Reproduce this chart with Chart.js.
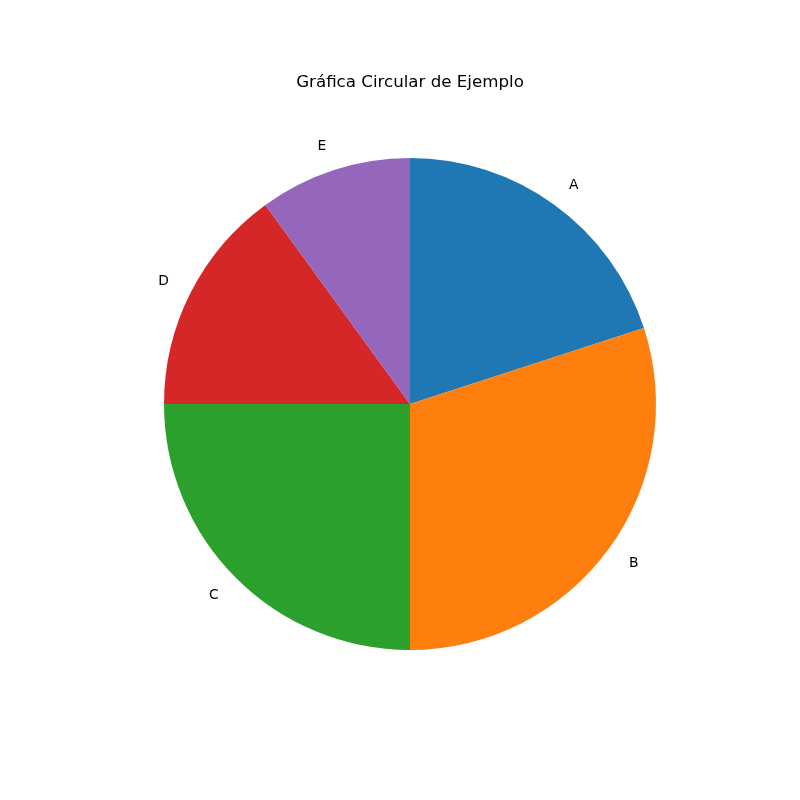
<!DOCTYPE html>
<html>
<head>
<meta charset="utf-8">
<script src="https://cdn.jsdelivr.net/npm/chart.js@4"></script>
<style>
html,body{margin:0;padding:0;background:#fff;}
#wrap{width:800px;height:800px;}
</style>
</head>
<body>
<div id="wrap"><canvas id="c" width="800" height="800"></canvas></div>
<script>
const categories = ['A', 'B', 'C', 'D', 'E'];
const values = [20, 30, 25, 15, 10];
const colors = ['#1f77b4', '#ff7f0e', '#2ca02c', '#d62728', '#9467bd'];
const titleText = 'Gráfica Circular de Ejemplo';

const outerLabels = {
  id: 'outerLabels',
  afterDatasetsDraw(chart) {
    const ctx = chart.ctx;
    const meta = chart.getDatasetMeta(0);
    ctx.save();
    ctx.font = '13.89px "DejaVu Sans"';
    ctx.fillStyle = '#000';
    ctx.textBaseline = 'middle';
    meta.data.forEach((arc, i) => {
      const p = arc.getProps(['x','y','startAngle','endAngle','outerRadius'], true);
      const mid = (p.startAngle + p.endAngle) / 2;
      const r = p.outerRadius * 1.1;
      const x = p.x + r * Math.cos(mid);
      const y = p.y + r * Math.sin(mid);
      ctx.textAlign = Math.cos(mid) > 0 ? 'left' : 'right';
      ctx.fillText(chart.data.labels[i], x, y);
    });
    ctx.restore();
  }
};

new Chart(document.getElementById('c'), {
  type: 'pie',
  data: {
    labels: categories,
    datasets: [{
      data: values,
      backgroundColor: colors,
      borderWidth: 0
    }]
  },
  options: {
    responsive: false,
    animation: false,
    layout: { padding: { top: 0, bottom: 150, left: 164, right: 144 } },
    plugins: {
      legend: { display: false },
      tooltip: { enabled: false },
      title: {
        display: true,
        text: titleText,
        color: '#000',
        font: { family: 'DejaVu Sans', size: 16.67, weight: 'normal' },
        padding: { top: 73, bottom: 65 }
      }
    }
  },
  plugins: [outerLabels]
});
</script>
</body>
</html>
